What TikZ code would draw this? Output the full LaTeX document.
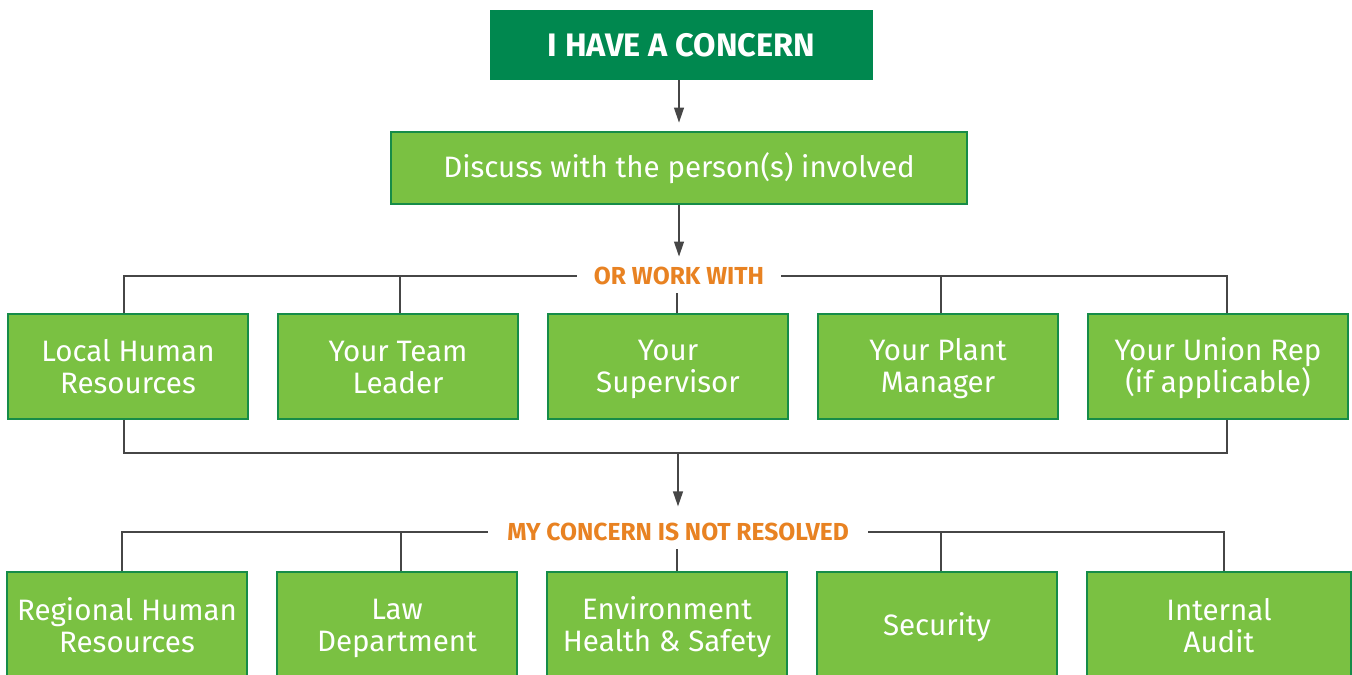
\documentclass[tikz,border=0pt]{standalone}
\usepackage{fontspec}
\setmainfont{Fira Sans}
\usetikzlibrary{arrows.meta}
\definecolor{dgreen}{RGB}{0,136,79}
\definecolor{lgreen}{RGB}{122,193,66}
\definecolor{bline}{RGB}{22,140,72}
\definecolor{orng}{RGB}{232,130,34}
\definecolor{conn}{RGB}{70,70,70}
\newcommand\sv{\rule[-0.1\baselineskip]{0pt}{0.9\baselineskip}}
\tikzset{
  box/.style={draw=bline, line width=0.7pt, fill=lgreen, text=white, align=center,
    font=\fontsize{16.8}{18.2}\selectfont, inner sep=0pt},
  headbox/.style={fill=dgreen, text=white, font=\bfseries\fontsize{18.5}{20}\selectfont,
    minimum width=7.66cm, minimum height=1.4cm, inner sep=0pt},
  lab/.style={fill=white, text=orng, font=\bfseries\fontsize{14}{16}\selectfont,
    inner ysep=0.15cm},
  conline/.style={draw=conn, line width=0.85pt},
  arr/.style={conline, -{Triangle[length=8.5pt,width=5.6pt]}}
}
\begin{document}
\begin{tikzpicture}[x=0.02cm,y=-0.02cm]
\useasboundingbox (0,0) rectangle (1352,675);
\clip (0,0) rectangle (1352,675);

% nodes
\node[headbox] (top) at (681.5,45) {I HAVE A CONCERN};
\node[box, minimum width=11.52cm, minimum height=1.44cm] (disc) at (679,168) {\sv Discuss with the person(s) involved};

\node[lab, inner xsep=0.34cm] (orlab) at (679,276) {OR WORK WITH};
\node[lab, inner xsep=0.38cm] (nrlab) at (678,532) {MY CONCERN IS NOT RESOLVED};

\begin{scope}[box/.append style={minimum height=2.1cm}]
\node[box, minimum width=4.8cm] (a1) at (128,366.5) {\sv Local Human\\\sv Resources};
\node[box, minimum width=4.8cm] (a2) at (398,366.5) {\sv Your Team\\\sv Leader};
\node[box, minimum width=4.8cm] (a3) at (668,366.5) {\sv Your\\\sv Supervisor};
\node[box, minimum width=4.8cm] (a4) at (938,366.5) {\sv Your Plant\\\sv Manager};
\node[box, minimum width=5.2cm] (a5) at (1218,366.5) {\sv Your Union Rep\\\sv (if applicable)};
\end{scope}

\begin{scope}[box/.append style={minimum height=2.14cm}]
\node[box, minimum width=4.8cm] (c1) at (127,625.5) {\sv Regional Human\\\sv Resources};
\node[box, minimum width=4.8cm] (c2) at (397,625.5) {\sv Law\\\sv Department};
\node[box, minimum width=4.8cm] (c3) at (667,625.5) {\sv Environment\\\sv Health \& Safety};
\node[box, minimum width=4.8cm] (c4) at (937,625.5) {\sv Security};
\node[box, minimum width=5.28cm] (c5) at (1219,625.5) {\sv Internal\\\sv Audit};
\end{scope}

% connector coordinates
\coordinate (u1) at (124,276);
\coordinate (u2) at (400,276);
\coordinate (u3) at (677,276);
\coordinate (u4) at (941,276);
\coordinate (u5) at (1227,276);
\coordinate (l1) at (124,453);
\coordinate (l5) at (1227,453);
\coordinate (mid) at (678,453);
\coordinate (v1) at (122,532);
\coordinate (v2) at (401,532);
\coordinate (v3) at (677,532);
\coordinate (v4) at (941,532);
\coordinate (v5) at (1224,532);

% connectors
\draw[arr, shorten >=5pt] (top.south -| disc.north) -- (disc.north);
\draw[arr, shorten >=1.5pt] (disc.south) -- (orlab.north);

\draw[conline] (a1.north -| u1) -- (u1) -- (orlab.west);
\draw[conline] (a5.north -| u5) -- (u5) -- (orlab.east);
\draw[conline] (a2.north -| u2) -- (u2);
\draw[conline] (a4.north -| u4) -- (u4);
\draw[conline] (a3.north -| u3) -- (orlab.south -| u3);

\draw[conline] (a1.south -| l1) -- (l1) -- (l5) -- (a5.south -| l5);
\draw[arr, shorten >=5pt] (mid) -- (nrlab.north -| mid);

\draw[conline] (c1.north -| v1) -- (v1) -- (nrlab.west);
\draw[conline] (c5.north -| v5) -- (v5) -- (nrlab.east);
\draw[conline] (c2.north -| v2) -- (v2);
\draw[conline] (c4.north -| v4) -- (v4);
\draw[conline] (c3.north -| v3) -- (nrlab.south -| v3);
\end{tikzpicture}
\end{document}
